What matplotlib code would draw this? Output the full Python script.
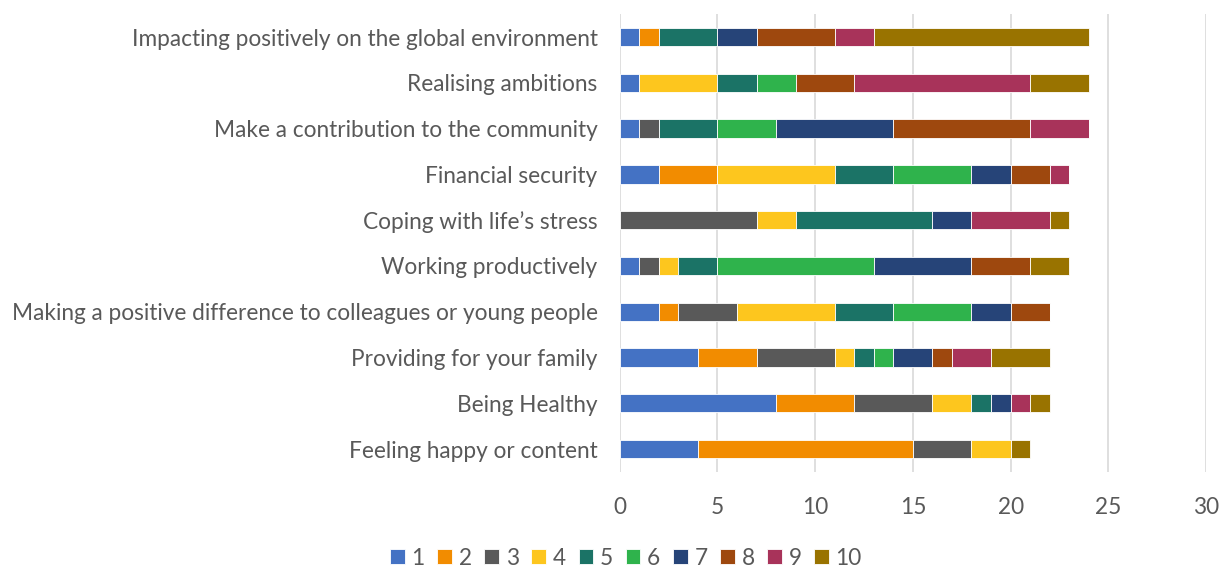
import matplotlib.pyplot as plt
import numpy as np

categories = ["Feeling happy or content", "Being Healthy", "Providing for your family",
              "Making a positive difference to colleagues or young people",
              "Working productively", "Coping with life\u2019s stress", "Financial security",
              "Make a contribution to the community", "Realising ambitions",
              "Impacting positively on the global environment"]
series = ["1", "2", "3", "4", "5", "6", "7", "8", "9", "10"]
# rows follow categories, columns follow series 1..10
values = [
    [4, 11, 3, 2, 0, 0, 0, 0, 0, 1],
    [8, 4, 4, 2, 1, 0, 1, 0, 1, 1],
    [4, 3, 4, 1, 1, 1, 2, 1, 2, 3],
    [2, 1, 3, 5, 3, 4, 2, 2, 0, 0],
    [1, 0, 1, 1, 2, 8, 5, 3, 0, 2],
    [0, 0, 7, 2, 7, 0, 2, 0, 4, 1],
    [2, 3, 0, 6, 3, 4, 2, 2, 1, 0],
    [1, 0, 1, 0, 3, 3, 6, 7, 3, 0],
    [1, 0, 0, 4, 2, 2, 0, 3, 9, 3],
    [1, 1, 0, 0, 3, 0, 2, 4, 2, 11],
]
colors = ["#4472C4", "#F28C00", "#595959", "#FDC61E", "#1B7366",
          "#2FB34C", "#264478", "#9E480E", "#A8335A", "#997300"]

plt.rcParams['font.family'] = ['Lato', 'DejaVu Sans']
fig = plt.figure(figsize=(12.2, 5.68), dpi=100)
ax = fig.add_axes([0.508, 0.169, 0.4805, 0.806])

data = np.array(values)
y = np.arange(len(categories))
left = np.zeros(len(categories))
for j, s in enumerate(series):
    ax.barh(y, data[:, j], left=left, height=0.4, color=colors[j],
            edgecolor="white", linewidth=0.6, label=s, zorder=3)
    left += data[:, j]

ax.set_xlim(0, 30)
ax.set_ylim(-0.5, len(categories) - 0.5)
ax.set_xticks([0, 5, 10, 15, 20, 25, 30])
ax.set_yticks(y)
ax.set_yticklabels(categories)
ax.grid(axis="x", color="#D9D9D9", linewidth=1.2, zorder=0)
for sp in ax.spines.values():
    sp.set_visible(False)
ax.tick_params(length=0, labelsize=16.3, colors="#595959")
ax.tick_params(axis="y", pad=16)
ax.tick_params(axis="x", pad=18)

leg = ax.legend(loc="center", ncol=10, frameon=False, fontsize=16.3,
                handlelength=0.65, handleheight=0.65, handletextpad=0.3,
                columnspacing=0.55, labelcolor="#595959")
leg.set_bbox_to_anchor((0.513, 0.017), transform=fig.transFigure)

fig.savefig("out.png", dpi=100)
